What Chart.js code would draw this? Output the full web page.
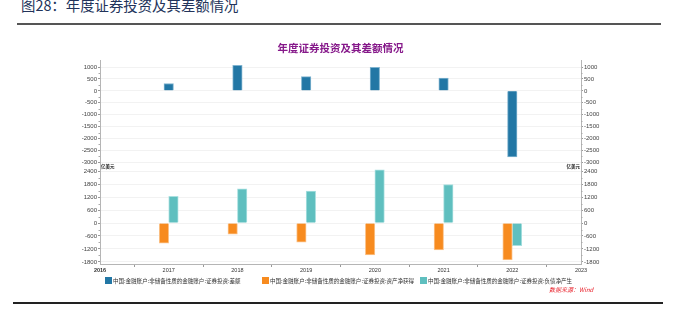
<!DOCTYPE html>
<html>
<head>
<meta charset="utf-8">
<script src="https://cdn.jsdelivr.net/npm/chart.js@4.4.1/dist/chart.umd.min.js"></script>
<style>
  html, body { margin: 0; padding: 0; background: #fff; }
  body { width: 673px; height: 322px; position: relative; overflow: hidden;
         font-family: "Noto Sans CJK SC", "Liberation Sans", sans-serif; }
  .header { position: absolute; left: 21px; top: -6px; font-size: 14.4px; color: #22335a; white-space: nowrap; }
  .rule-top { position: absolute; left: 17px; top: 23px; width: 644px; height: 2px; background: #555; }
  .rule-bottom { position: absolute; left: 13px; top: 302px; width: 650px; height: 2px; background: #222; }
  #chart { position: absolute; left: 0; top: 0; }
  .legend { position: absolute; top: 276px; left: 0; font-size: 6px; color: #333; white-space: nowrap; }
  .legend span.item { position: absolute; display: flex; align-items: center; }
  .legend i { display: inline-block; width: 7px; height: 7px; margin-right: 1px; }
  .legend em { font-style: normal; display: inline-block; transform: scaleX(0.92); transform-origin: left center; }
  .source { position: absolute; left: 549px; top: 285px; font-size: 6px; color: #e8202a; font-style: italic; white-space: nowrap; }
</style>
</head>
<body>
<div class="header">图28：年度证券投资及其差额情况</div>
<div class="rule-top"></div>
<canvas id="chart" width="673" height="322"></canvas>
<div class="legend" id="legend"></div>
<div class="source">数据来源：Wind</div>
<div class="rule-bottom"></div>
<script>
// x-axis years (2016 and 2023 are empty edge labels)
const years = ['2016', '2017', '2018', '2019', '2020', '2021', '2022', '2023'];
const dataYears = ['2017', '2018', '2019', '2020', '2021', '2022'];

// 亿美元
const balance = [310, 1075, 600, 990, 540, -2770];        // 证券投资:差额
const assetNet = [-935, -515, -890, -1480, -1250, -1715];  // 证券投资:资产净获得
const liabNet = [1245, 1590, 1490, 2470, 1790, -1055];     // 证券投资:负债净产生

const topTicks = [1000, 500, 0, -500, -1000, -1500, -2000, -2500, -3000];
const botTicks = [2400, 1800, 1200, 600, 0, -600, -1200, -1800];

const seriesNames = [
  '中国:金融账户:非储备性质的金融账户:证券投资:差额',
  '中国:金融账户:非储备性质的金融账户:证券投资:资产净获得',
  '中国:金融账户:非储备性质的金融账户:证券投资:负债净产生'
];
const colors = ['#2277a5', '#f78b1f', '#5fbfbf'];
const borders = ['#7fb3cf', '#fbc48e', '#a9e0e0'];

// spread the 2017-2022 values over the full year axis
const onYears = vals => years.map(y => {
  const i = dataYears.indexOf(y);
  return i < 0 ? null : vals[i];
});

const tickFont = { family: 'Liberation Sans', size: 6 };

function yScale(min, max, ticks, position, stack, onChart) {
  return {
    type: 'linear',
    position: position,
    stack: stack,
    stackWeight: 1,
    min: min,
    max: max,
    afterBuildTicks: s => { s.ticks = ticks.map(v => ({ value: v })); },
    afterFit: s => { s.width = 30; },
    grid: { drawOnChartArea: onChart, color: '#f2f2f2', tickLength: 2, tickColor: '#999', lineWidth: 1 },
    border: { color: '#b5b5b5' },
    ticks: { font: tickFont, color: '#444', padding: 1, autoSkip: false, callback: v => String(v) }
  };
}

// small minor ticks halfway between the labelled ones
const minorTicks = {
  id: 'minorTicks',
  afterDraw(chart) {
    const ctx = chart.ctx;
    ctx.save();
    ctx.strokeStyle = '#aaa';
    ctx.lineWidth = 1;
    ['yTop', 'yBot', 'yTopR', 'yBotR'].forEach(id => {
      const s = chart.scales[id];
      const vals = s.ticks.map(t => t.value);
      const left = s.position === 'left';
      const x = left ? s.right : s.left;
      for (let i = 0; i < vals.length - 1; i++) {
        const y = Math.round(s.getPixelForValue((vals[i] + vals[i + 1]) / 2)) + 0.5;
        ctx.beginPath();
        ctx.moveTo(x, y);
        ctx.lineTo(left ? x - 1.5 : x + 1.5, y);
        ctx.stroke();
      }
    });
    ctx.restore();
  }
};

// unit labels above the lower panel
const unitLabels = {
  id: 'unitLabels',
  afterDraw(chart) {
    const ctx = chart.ctx;
    const s = chart.scales.yBot;
    ctx.save();
    ctx.font = 'bold 4.5px "Noto Sans CJK SC"';
    ctx.fillStyle = '#222';
    ctx.textBaseline = 'middle';
    ctx.textAlign = 'left';
    ctx.fillText('亿美元', chart.chartArea.left + 1, s.top + 4);
    ctx.textAlign = 'right';
    ctx.fillText('亿美元', chart.chartArea.right - 1, s.top + 4);
    ctx.restore();
  }
};

const chart = new Chart(document.getElementById('chart'), {
  type: 'bar',
  data: {
    labels: years,
    datasets: [
      { label: seriesNames[0], data: onYears(balance), yAxisID: 'yTop', grouped: false,
        backgroundColor: colors[0], borderColor: borders[0], borderWidth: 1 },
      { label: seriesNames[1], data: onYears(assetNet), yAxisID: 'yBot',
        backgroundColor: colors[1], borderColor: borders[1], borderWidth: 1 },
      { label: seriesNames[2], data: onYears(liabNet), yAxisID: 'yBot',
        backgroundColor: colors[2], borderColor: borders[2], borderWidth: 1 }
    ]
  },
  options: {
    responsive: false,
    animation: false,
    barThickness: 9.5,
    layout: { padding: { left: 70, right: 62, top: 38, bottom: 46 } },
    plugins: {
      legend: { display: false },
      tooltip: { enabled: false },
      title: {
        display: true,
        text: '年度证券投资及其差额情况',
        color: '#86198a',
        font: { family: 'Noto Sans CJK SC', size: 10.5, weight: 'bold', lineHeight: 1.2 },
        padding: { top: 4, bottom: 6 }
      }
    },
    scales: {
      x: {
        type: 'category',
        offset: false,
        grid: { drawOnChartArea: false, tickLength: 3, tickColor: '#999' },
        border: { color: '#b5b5b5' },
        ticks: {
          autoSkip: false, maxRotation: 0, color: '#333', padding: 0,
          font: c => ({ family: 'Liberation Sans', size: 5.5, weight: c.index === 0 ? 'bold' : 'normal' })
        },
        afterFit: s => { s.height = 12; }
      },
      yBot: yScale(-1900, 2820, botTicks, 'left', 'L', true),
      yTop: yScale(-3000, 1270, topTicks, 'left', 'L', true),
      yTopR: yScale(-3000, 1270, topTicks, 'right', 'R', false),
      yBotR: yScale(-1900, 2820, botTicks, 'right', 'R', false)
    }
  },
  plugins: [minorTicks, unitLabels]
});

// legend built from the dataset names and colours
const legendX = [105, 262, 420];
const legend = document.getElementById('legend');
chart.data.datasets.forEach((ds, i) => {
  const item = document.createElement('span');
  item.className = 'item';
  item.style.left = legendX[i] + 'px';
  item.innerHTML = '<i style="background:' + ds.backgroundColor + '"></i><em>' + ds.label + '</em>';
  legend.appendChild(item);
});
</script>
</body>
</html>
